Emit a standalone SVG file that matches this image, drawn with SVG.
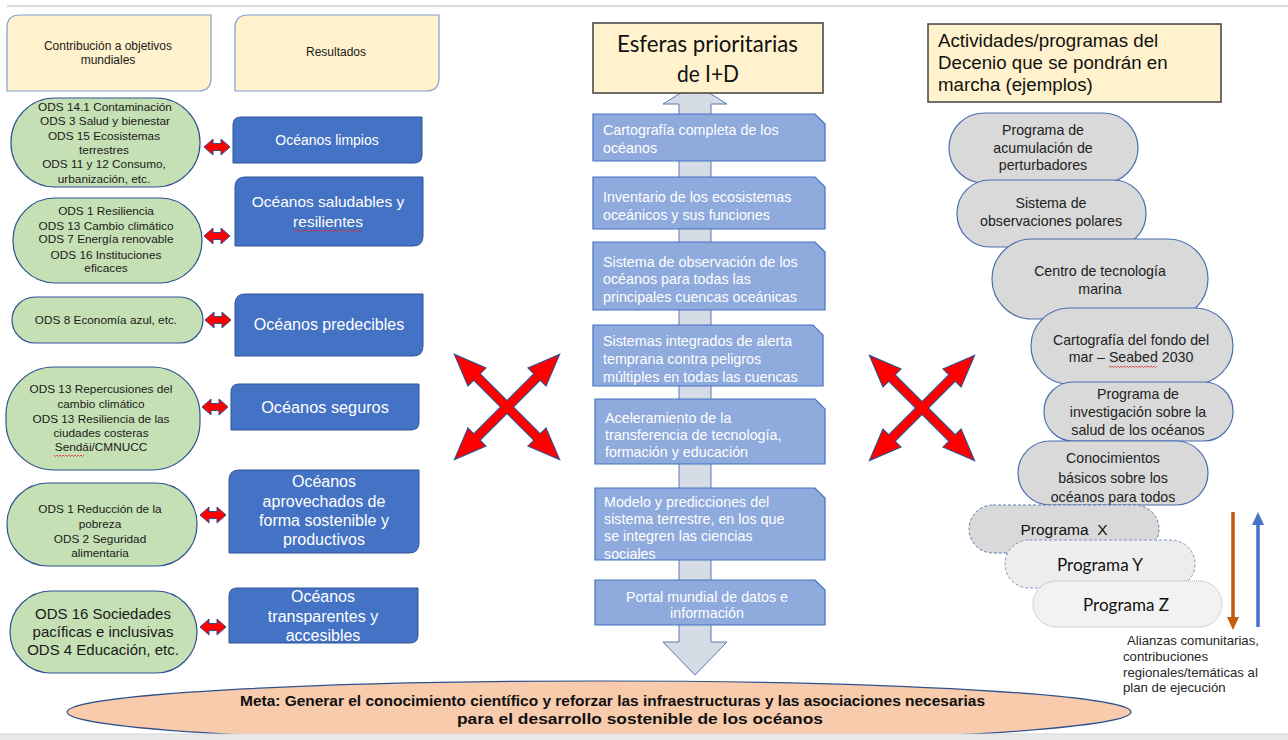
<svg xmlns="http://www.w3.org/2000/svg" xmlns:xlink="http://www.w3.org/1999/xlink" width="1288" height="740" viewBox="0 0 1288 740">
<defs>
<style>
.hdr{fill:#fff2cc;stroke:#7f9fcf;stroke-width:1.2}
.ttl{fill:#fff2cc;stroke:#404040;stroke-width:1.5}
.grn{fill:#c5e0b4;stroke:#2f528f;stroke-width:1.2}
.res{fill:#4472c4;stroke:#2f5597;stroke-width:1}
.pri{fill:#8faadc;stroke:#4472c4;stroke-width:1.2}
.gry{fill:#d9d9d9;stroke:#4a6fb0;stroke-width:1.2}
.t{font-family:"Liberation Sans",Arial,sans-serif}
.c{text-anchor:middle}
.g11{font-size:11.8px;fill:#1a1a1a}
.w{fill:#ffffff}
.p14{font-size:14.3px;fill:#ffffff}
.n14{font-size:14.2px;fill:#222}
.red{fill:#ff0000;stroke:#2f528f;stroke-width:1}
.xo{fill:#ff0000;stroke:#2f528f;stroke-width:2.2}
.xf{fill:#ff0000}
.wavy{fill:none;stroke:#e03030;stroke-width:0.8}
</style>
<polygon id="dbl" points="0,0 9,-8 9,-3.5 17,-3.5 17,-8 26,0 17,8 17,3.5 9,3.5 9,8"/>
<polygon id="arm" points="-73,0 -43,-12 -43,-4 43,-4 43,-12 73,0 43,12 43,4 -43,4 -43,12"/>
</defs>
<rect x="0" y="0" width="1288" height="740" fill="#ffffff"/>
<line x1="7" y1="6" x2="1288" y2="6" stroke="#cfcfcf" stroke-width="1.5"/>

<!-- central up-down arrow -->
<g id="axis">
<polygon points="695,84 727,104 711,104 711,642 727,642 695,675 663,642 679,642 679,104 663,104" fill="#d6dce5" stroke="#5b78b0" stroke-width="1"/>
</g>

<!-- Left headers -->
<g id="hdr-contrib">
<path class="hdr" d="M20,15 H211 V78 Q211,91 198,91 H7 V28 Q7,15 20,15 Z"/>
<text class="t c" font-size="12" fill="#1a1a1a" x="108" y="50">Contribución a objetivos</text>
<text class="t c" font-size="12" fill="#1a1a1a" x="108" y="64">mundiales</text>
</g>
<g id="hdr-result">
<path class="hdr" d="M248,15 H439 V78 Q439,91 426,91 H235 V28 Q235,15 248,15 Z"/>
<text class="t c" font-size="12" fill="#1a1a1a" x="336" y="56">Resultados</text>
</g>

<!-- Green nodes -->
<g id="ods1">
<rect class="grn" x="11" y="98" width="189" height="89" rx="44" ry="44"/>
<g class="t c g11">
<text x="105" y="111">ODS 14.1 Contaminación</text>
<text x="105" y="125">ODS 3 Salud y bienestar</text>
<text x="104" y="140">ODS 15 Ecosistemas</text>
<text x="104" y="154">terrestres</text>
<text x="104" y="168">ODS 11 y 12 Consumo,</text>
<text x="104" y="183">urbanización, etc.</text>
</g>
</g>
<g id="ods2">
<rect class="grn" x="13" y="198" width="189" height="85" rx="42" ry="42"/>
<g class="t c g11">
<text x="106" y="215">ODS 1 Resiliencia</text>
<text x="106" y="230">ODS 13 Cambio climático</text>
<text x="106" y="243">ODS 7 Energía renovable</text>
<text x="106" y="259">ODS 16 Instituciones</text>
<text x="106" y="272">eficaces</text>
</g>
</g>
<g id="ods3">
<rect class="grn" x="12" y="297" width="191" height="46" rx="23" ry="23"/>
<text class="t c g11" x="106" y="324">ODS 8 Economía azul, etc.</text>
</g>
<g id="ods4">
<rect class="grn" x="6" y="367" width="194" height="103" rx="48" ry="48"/>
<g class="t c g11">
<text x="101" y="393">ODS 13 Repercusiones del</text>
<text x="101" y="408">cambio climático</text>
<text x="101" y="423">ODS 13 Resiliencia de las</text>
<text x="101" y="437">ciudades costeras</text>
<text x="101" y="451">Sendái/CMNUCC</text>
</g>
<path class="wavy" d="M54,455 l1.5,1.5 l1.5,-1.5 l1.5,1.5 l1.5,-1.5 l1.5,1.5 l1.5,-1.5 l1.5,1.5 l1.5,-1.5 l1.5,1.5 l1.5,-1.5 l1.5,1.5 l1.5,-1.5 l1.5,1.5 l1.5,-1.5 l1.5,1.5 l1.5,-1.5 l1.5,1.5 l1.5,-1.5 l1.5,1.5 l1.5,-1.5"/>
</g>
<g id="ods5">
<rect class="grn" x="7" y="483" width="190" height="83" rx="41" ry="41"/>
<g class="t c g11">
<text x="100" y="513">ODS 1 Reducción de la</text>
<text x="100" y="528">pobreza</text>
<text x="100" y="543">ODS 2 Seguridad</text>
<text x="100" y="557">alimentaria</text>
</g>
</g>
<g id="ods6">
<rect class="grn" x="10" y="591" width="187" height="82" rx="41" ry="41"/>
<g class="t c" font-size="15" fill="#1a1a1a">
<text x="103" y="619">ODS 16 Sociedades</text>
<text x="103" y="637">pacíficas e inclusivas</text>
<text x="103" y="655">ODS 4 Educación, etc.</text>
</g>
</g>

<!-- Result boxes -->
<g id="res-limpios">
<path class="res" d="M241,117 H422 V155 Q422,163 414,163 H233 V125 Q233,117 241,117 Z"/>
<text class="t c w" font-size="14" x="327" y="145">Océanos limpios</text>
</g>
<g id="res-saludables">
<path class="res" d="M245,177 H423 V236 Q423,246 413,246 H235 V187 Q235,177 245,177 Z"/>
<text class="t c w" font-size="15.5" x="328" y="207">Océanos saludables y</text>
<text class="t c w" font-size="15.5" x="328" y="227">resilientes</text>
<path class="wavy" d="M293,230 l1.5,1.5 l1.5,-1.5 l1.5,1.5 l1.5,-1.5 l1.5,1.5 l1.5,-1.5 l1.5,1.5 l1.5,-1.5 l1.5,1.5 l1.5,-1.5 l1.5,1.5 l1.5,-1.5 l1.5,1.5 l1.5,-1.5 l1.5,1.5 l1.5,-1.5 l1.5,1.5 l1.5,-1.5 l1.5,1.5 l1.5,-1.5 l1.5,1.5 l1.5,-1.5 l1.5,1.5 l1.5,-1.5 l1.5,1.5 l1.5,-1.5 l1.5,1.5 l1.5,-1.5 l1.5,1.5 l1.5,-1.5 l1.5,1.5 l1.5,-1.5 l1.5,1.5 l1.5,-1.5 l1.5,1.5 l1.5,-1.5 l1.5,1.5 l1.5,-1.5 l1.5,1.5 l1.5,-1.5 l1.5,1.5 l1.5,-1.5 l1.5,1.5 l1.5,-1.5 l1.5,1.5 l1.5,-1.5"/>
</g>
<g id="res-predecibles">
<path class="res" d="M245,294 H423 V346 Q423,356 413,356 H235 V304 Q235,294 245,294 Z"/>
<text class="t c w" font-size="16" x="329" y="330">Océanos predecibles</text>
</g>
<g id="res-seguros">
<path class="res" d="M239,384 H419 V422 Q419,430 411,430 H231 V392 Q231,384 239,384 Z"/>
<text class="t c w" font-size="16.3" x="325" y="413">Océanos seguros</text>
</g>
<g id="res-aprovechados">
<path class="res" d="M239,470 H419 V543 Q419,553 409,553 H229 V480 Q229,470 239,470 Z"/>
<g class="t c w" font-size="16">
<text x="324" y="487">Océanos</text>
<text x="324" y="507">aprovechados de</text>
<text x="324" y="526">forma sostenible y</text>
<text x="324" y="545">productivos</text>
</g>
</g>
<g id="res-transparentes">
<path class="res" d="M239,588 H418 V635 Q418,643 410,643 H229 V596 Q229,588 237,588 Z"/>
<g class="t c w" font-size="16">
<text x="323" y="602">Océanos</text>
<text x="323" y="622">transparentes y</text>
<text x="323" y="641">accesibles</text>
</g>
</g>

<!-- Center title -->
<g id="title-center">
<rect class="ttl" x="593" y="23" width="230" height="70"/>
<text font-family="Lato,'Open Sans',sans-serif" font-size="23" fill="#111" x="617" y="52" textLength="181" lengthAdjust="spacingAndGlyphs">Esferas prioritarias</text>
<text font-family="Lato,'Open Sans',sans-serif" font-size="23" fill="#111" x="677" y="82" textLength="62" lengthAdjust="spacingAndGlyphs">de I+D</text>
</g>

<!-- Priority boxes -->
<g id="pri1">
<path class="pri" d="M593,114 H815 L825,124 V161 H593 Z"/>
<text class="t p14" x="603" y="135">Cartografía completa de los</text>
<text class="t p14" x="603" y="153">océanos</text>
</g>
<g id="pri2">
<path class="pri" d="M593,177 H815 L825,187 V229 H593 Z"/>
<text class="t p14" x="603" y="202">Inventario de los ecosistemas</text>
<text class="t p14" x="603" y="220">oceánicos y sus funciones</text>
</g>
<g id="pri3">
<path class="pri" d="M593,242 H815 L825,252 V310 H593 Z"/>
<text class="t p14" x="603" y="267">Sistema de observación de los</text>
<text class="t p14" x="603" y="284">océanos para todas las</text>
<text class="t p14" x="603" y="302">principales cuencas oceánicas</text>
</g>
<g id="pri4">
<path class="pri" d="M593,325 H813 L823,335 V386 H593 Z"/>
<text class="t p14" x="603" y="346">Sistemas integrados de alerta</text>
<text class="t p14" x="603" y="364">temprana contra peligros</text>
<text class="t p14" x="603" y="382">múltiples en todas las cuencas</text>
</g>
<g id="pri5">
<path class="pri" d="M595,399 H815 L825,409 V464 H595 Z"/>
<text class="t p14" x="605" y="423">Aceleramiento de la</text>
<text class="t p14" x="605" y="440">transferencia de tecnología,</text>
<text class="t p14" x="605" y="457">formación y educación</text>
</g>
<g id="pri6">
<path class="pri" d="M595,488 H815 L825,498 V560 H595 Z"/>
<text class="t p14" x="604" y="507">Modelo y predicciones del</text>
<text class="t p14" x="604" y="524">sistema terrestre, en los que</text>
<text class="t p14" x="604" y="541">se integren las ciencias</text>
<text class="t p14" x="604" y="559">sociales</text>
</g>
<g id="pri7">
<path class="pri" d="M595,580 H815 L825,590 V625 H595 Z"/>
<text class="t c p14" x="707" y="602">Portal mundial de datos e</text>
<text class="t c p14" x="707" y="618">información</text>
</g>

<!-- Right title -->
<g id="title-right">
<rect class="ttl" x="928" y="24" width="293" height="78"/>
<g class="t" font-size="18.7" fill="#111">
<text x="938" y="47">Actividades/programas del</text>
<text x="938" y="69">Decenio que se pondrán en</text>
<text x="938" y="91">marcha (ejemplos)</text>
</g>
</g>

<!-- Gray activity nodes -->
<g id="act1">
<rect class="gry" x="949" y="113" width="189" height="70" rx="35" ry="35"/>
<text class="t c n14" x="1043" y="135">Programa de</text>
<text class="t c n14" x="1043" y="153">acumulación de</text>
<text class="t c n14" x="1043" y="170">perturbadores</text>
</g>
<g id="act2">
<rect class="gry" x="957" y="180" width="189" height="67" rx="33" ry="33"/>
<text class="t c n14" x="1051" y="208">Sistema de</text>
<text class="t c n14" x="1051" y="226">observaciones polares</text>
</g>
<g id="act3">
<rect class="gry" x="992" y="239" width="216" height="80" rx="40" ry="40"/>
<text class="t c n14" x="1100" y="276">Centro de tecnología</text>
<text class="t c n14" x="1100" y="294">marina</text>
</g>
<g id="act4">
<rect class="gry" x="1031" y="308" width="202" height="76" rx="38" ry="38"/>
<text class="t c n14" x="1131" y="345">Cartografía del fondo del</text>
<text class="t c n14" x="1131" y="362">mar – Seabed 2030</text>
<path class="wavy" d="M1109,366 l1.5,1.5 l1.5,-1.5 l1.5,1.5 l1.5,-1.5 l1.5,1.5 l1.5,-1.5 l1.5,1.5 l1.5,-1.5 l1.5,1.5 l1.5,-1.5 l1.5,1.5 l1.5,-1.5 l1.5,1.5 l1.5,-1.5 l1.5,1.5 l1.5,-1.5 l1.5,1.5 l1.5,-1.5 l1.5,1.5 l1.5,-1.5 l1.5,1.5 l1.5,-1.5 l1.5,1.5 l1.5,-1.5 l1.5,1.5 l1.5,-1.5 l1.5,1.5 l1.5,-1.5 l1.5,1.5 l1.5,-1.5 l1.5,1.5 l1.5,-1.5"/>
</g>
<g id="act5">
<rect class="gry" x="1044" y="382" width="189" height="59" rx="29" ry="29"/>
<text class="t c n14" x="1138" y="399">Programa de</text>
<text class="t c n14" x="1138" y="417">investigación sobre la</text>
<text class="t c n14" x="1138" y="435">salud de los océanos</text>
</g>
<g id="act6">
<rect class="gry" x="1018" y="441" width="190" height="64" rx="32" ry="32"/>
<text class="t c n14" x="1113" y="463">Conocimientos</text>
<text class="t c n14" x="1113" y="483">básicos sobre los</text>
<text class="t c n14" x="1113" y="502">océanos para todos</text>
</g>
<g id="progX">
<rect x="969" y="505" width="190" height="48" rx="24" ry="24" fill="#d9d9d9" stroke="#5b7bb3" stroke-width="1" stroke-dasharray="3,2"/>
<text class="t c" font-size="15.5" fill="#111" x="1064" y="535" xml:space="preserve">Programa  X</text>
</g>
<g id="progY">
<rect x="1005" y="540" width="190" height="48" rx="24" ry="24" fill="#ededed" stroke="#7f96bf" stroke-width="1" stroke-dasharray="3,2"/>
<text font-family="Lato,'Open Sans',sans-serif" font-size="17" fill="#111" x="1057" y="571" textLength="86" lengthAdjust="spacingAndGlyphs">Programa Y</text>
</g>
<g id="progZ">
<rect x="1033" y="581" width="189" height="46" rx="23" ry="23" fill="#f2f2f2" stroke="#a6a6a6" stroke-width="1" stroke-dasharray="1,1"/>
<text font-family="Lato,'Open Sans',sans-serif" font-size="17" fill="#111" x="1083" y="611" textLength="86" lengthAdjust="spacingAndGlyphs">Programa Z</text>
</g>

<!-- Alianzas note -->
<g id="note" class="t" font-size="13.2" fill="#262626">
<text x="1127" y="645">Alianzas comunitarias,</text>
<text x="1123" y="661">contribuciones</text>
<text x="1123" y="677">regionales/temáticas al</text>
<text x="1123" y="692">plan de ejecución</text>
</g>

<!-- Goal ellipse -->
<g id="goal">
<ellipse cx="599" cy="712" rx="532" ry="31" fill="#f8cbad" stroke="#2f528f" stroke-width="1.2"/>
<text class="t" font-size="14.6" font-weight="bold" fill="#111" x="240" y="706" textLength="745" lengthAdjust="spacingAndGlyphs">Meta: Generar el conocimiento científico y reforzar las infraestructuras y las asociaciones necesarias</text>
<text class="t" font-size="14.6" font-weight="bold" fill="#111" x="457" y="724" textLength="366" lengthAdjust="spacingAndGlyphs">para el desarrollo sostenible de los océanos</text>
</g>
<rect x="0" y="734" width="1288" height="6" fill="#e9e9e9"/>
<line x1="0" y1="734" x2="1288" y2="734" stroke="#d6d6d6" stroke-width="1"/>

<!-- Connectors -->
<g id="connectors">
<use xlink:href="#dbl" href="#dbl" class="red" transform="translate(204,147)"/>
<use xlink:href="#dbl" href="#dbl" class="red" transform="translate(204,236)"/>
<use xlink:href="#dbl" href="#dbl" class="red" transform="translate(205,320)"/>
<use xlink:href="#dbl" href="#dbl" class="red" transform="translate(202,407)"/>
<use xlink:href="#dbl" href="#dbl" class="red" transform="translate(200,515)"/>
<use xlink:href="#dbl" href="#dbl" class="red" transform="translate(200,627)"/>
<g transform="translate(507,407)">
<use xlink:href="#arm" href="#arm" class="xo" transform="rotate(45)"/>
<use xlink:href="#arm" href="#arm" class="xo" transform="rotate(-45)"/>
<use xlink:href="#arm" href="#arm" class="xf" transform="rotate(45)"/>
<use xlink:href="#arm" href="#arm" class="xf" transform="rotate(-45)"/>
</g>
<g transform="translate(922,408)">
<use xlink:href="#arm" href="#arm" class="xo" transform="rotate(45)"/>
<use xlink:href="#arm" href="#arm" class="xo" transform="rotate(-45)"/>
<use xlink:href="#arm" href="#arm" class="xf" transform="rotate(45)"/>
<use xlink:href="#arm" href="#arm" class="xf" transform="rotate(-45)"/>
</g>
<line x1="1233" y1="512" x2="1233" y2="618" stroke="#c55a11" stroke-width="3.5"/>
<polygon points="1227,617 1239,617 1233,630" fill="#c55a11"/>
<line x1="1258" y1="524" x2="1258" y2="627" stroke="#4472c4" stroke-width="3.5"/>
<polygon points="1252,525 1264,525 1258,512" fill="#4472c4"/>
</g>
</svg>
